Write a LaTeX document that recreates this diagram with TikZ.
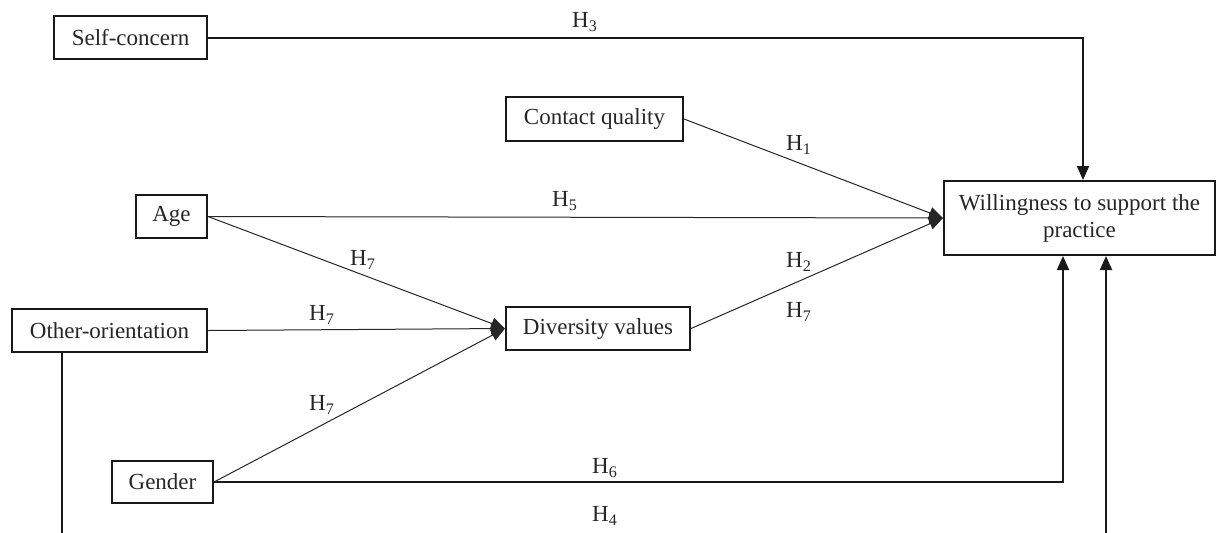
\documentclass[tikz,border=0pt]{standalone}
\usepackage{fontspec}
\setmainfont{Liberation Serif}
\usetikzlibrary{arrows.meta,calc}
\begin{document}
\begin{tikzpicture}[x=0.5pt,y=-0.5pt,
  box/.style={draw=black!90,line width=1pt,inner sep=0pt,align=center,font=\fontsize{11.5}{13.5}\selectfont,text=black!85},
  lab/.style={inner sep=0pt,font=\fontsize{11.5}{13.5}\selectfont,text=black!85},
  thin/.style={draw=black!85,line width=0.5pt,-{Triangle[length=7pt,width=6pt]}},
  thick/.style={draw=black!90,line width=1pt,-{Triangle[length=7pt,width=6pt]}}]
\useasboundingbox (0,0) rectangle (1216,532);
\clip (0,0) rectangle (1216,532);
\node[box,minimum width=76.5pt,minimum height=21.5pt] (sc) at (130.5,37.5) {Self-concern};
\node[box,minimum width=88.5pt,minimum height=22pt] (cq) at (594.5,119) {Contact quality};
\node[box,minimum width=135.5pt,minimum height=37pt] (will) at (1079.5,218) {Willingness to support the\\practice};
\node[box,minimum width=92pt,minimum height=21.5pt] (div) at (598,328.5) {Diversity values};
\node[box,minimum width=97.5pt,minimum height=21.5pt] (oth) at (109.5,330.5) {Other-orientation};
\node[box,minimum width=35.5pt,minimum height=21.5pt] (age) at (171.5,216.5) {Age};
\node[box,minimum width=50.5pt,minimum height=21pt] (gen) at (162.5,482) {Gender};
\coordinate (wt) at ($(will.north)+(3.5,0)$);
\coordinate (wb1) at ($(will.south)+(-16.5,0)$);
\coordinate (wb2) at ($(will.south)+(26.5,0)$);
\coordinate (ob) at ($(oth.south west)+(51,0)$);
\coordinate (low) at ($(ob)+(0,240)$);
\draw[thick] (sc.east) -| (wt);
\draw[thin] (cq.east) -- (will.west);
\draw[thin] (age.east) -- (will.west);
\draw[thin] (div.east) -- (will.west);
\draw[thin] (age.east) -- (div.west);
\draw[thin] (oth.east) -- (div.west);
\draw[thin] (gen.east) -- (div.west);
\draw[thick] (gen.east) -| (wb1);
\draw[thick] (ob) -- (low) -| (wb2);
\node[lab] (h3) at (585,22) {H\textsubscript{3}};
\node[lab] (h1) at (799,145) {H\textsubscript{1}};
\node[lab] (h5) at (565,201) {H\textsubscript{5}};
\node[lab] (h7a) at (363,260) {H\textsubscript{7}};
\node[lab] (h2) at (799,262) {H\textsubscript{2}};
\node[lab] (h7b) at (322,315) {H\textsubscript{7}};
\node[lab] (h7c) at (799,312) {H\textsubscript{7}};
\node[lab] (h7d) at (322,405) {H\textsubscript{7}};
\node[lab] (h6) at (605,468) {H\textsubscript{6}};
\node[lab] (h4) at (605,516) {H\textsubscript{4}};
\end{tikzpicture}
\end{document}
